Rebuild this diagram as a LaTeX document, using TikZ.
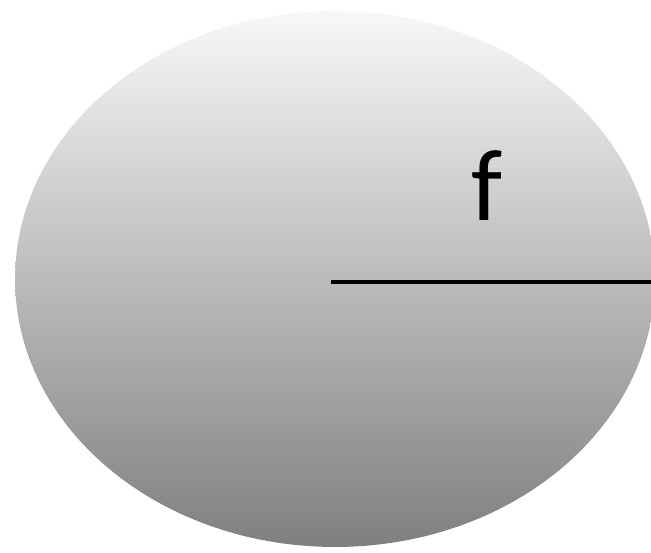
\documentclass[tikz,border=0pt]{standalone}
\usepackage{fontspec}
\setmainfont{Carlito}
\usepackage{tikz}
\usetikzlibrary{positioning,shapes.geometric}

\begin{document}
\begin{tikzpicture}[
  x=0.02cm, y=-0.02cm,
  blob/.style={ellipse, draw=none, top color=black!3, bottom color=black!50, inner sep=0pt, minimum width=12.8cm, minimum height=10.72cm},
  cutline/.style={line width=2.2pt, black},
  lbl/.style={font=\fontsize{58}{64}\selectfont, inner sep=0pt},
]
\useasboundingbox (0,0) rectangle (651,552);
% ---------- ellipse with gradient ----------
\node[blob] (body) at (335,279) {};
% ---------- radius line and label ----------
\coordinate (mid) at (331,282);
\coordinate (rim) at (651,282);
\draw[cutline] (mid) -- (rim);
\node[lbl] (f) at (487,186) {f};
\end{tikzpicture}
\end{document}
